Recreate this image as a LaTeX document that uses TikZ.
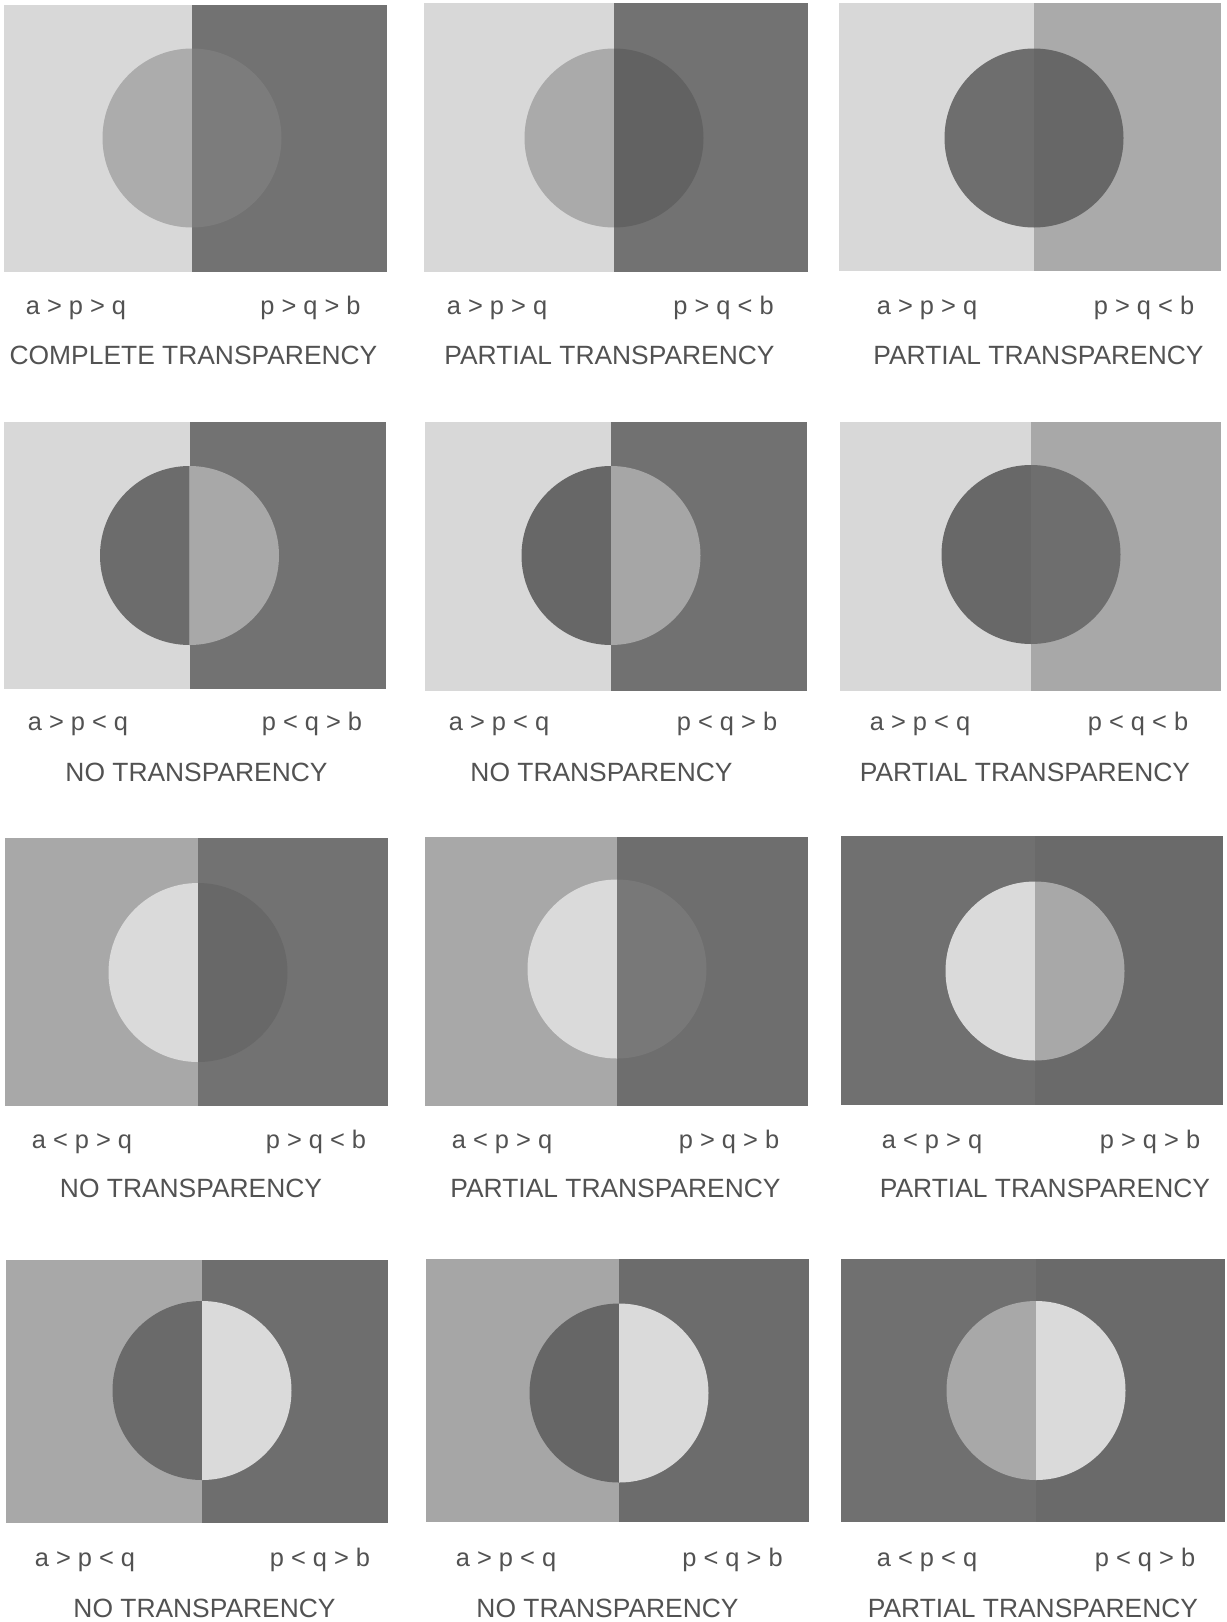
\documentclass[tikz,border=0pt]{standalone}
\usepackage{fontspec}
\setmainfont{Liberation Sans}
\definecolor{txtgray}{RGB}{82,82,82}
\begin{document}
\begin{tikzpicture}[x=0.5pt,y=-0.5pt,
  lab/.style={anchor=base,inner sep=0pt,text=txtgray,font=\fontsize{12.7pt}{14pt}\selectfont},
  ttl/.style={anchor=base,inner sep=0pt,text=txtgray,font=\fontsize{13.2pt}{15pt}\selectfont}]
\useasboundingbox (0,0) rectangle (1226,1622);
\fill[white] (0,0) rectangle (1226,1622);
\def\rr{89.5}
\foreach \xa/\ya/\xb/\yb/\d/\cy/\ca/\cb/\cp/\cq in {
  4/5/387/272/192/138/216/114/172/124,
  424/3/808/272/614/138/216/114/170/98,
  839/3/1221/271/1034/138/216/170/110/103,
  4/422/386/689/189.5/555.5/216/114/108/168,
  425/422/807/691/611/555.5/216/113/103/166,
  840/422/1221/691/1031/554.5/216/168/104/110,
  5/838/388/1106/198/972.5/168/114/218/104,
  425/837/808/1106/617/969/168/110/218/120,
  841/836/1223/1105/1035/971/112/106/218/168,
  6/1260/388/1523/202/1390.5/168/110/106/218,
  426/1259/809/1522/619/1393/166/108/102/218,
  841/1259/1225/1522/1036/1390.5/112/106/168/218}{
  \definecolor{colA}{RGB}{\ca,\ca,\ca}
  \definecolor{colB}{RGB}{\cb,\cb,\cb}
  \definecolor{colP}{RGB}{\cp,\cp,\cp}
  \definecolor{colQ}{RGB}{\cq,\cq,\cq}
  \fill[colA] (\xa,\ya) rectangle (\d,\yb);
  \fill[colB] (\d,\ya) rectangle (\xb,\yb);
  \fill[colP] (\d,\cy) ++(90:\rr) arc[start angle=90,end angle=270,radius=\rr] -- cycle;
  \fill[colQ] (\d,\cy) ++(-90:\rr) arc[start angle=-90,end angle=90,radius=\rr] -- cycle;
}
% row 1
\node[lab] (l1) at (76,314) {a > p > q};
\node[lab] (r1) at (310.5,314) {p > q > b};
\node[ttl] (t1) at (193.5,364) {COMPLETE TRANSPARENCY};
\node[lab] (l2) at (497,314) {a > p > q};
\node[lab] (r2) at (723.5,314) {p > q < b};
\node[ttl] (t2) at (609.5,364) {PARTIAL TRANSPARENCY};
\node[lab] (l3) at (927,314) {a > p > q};
\node[lab] (r3) at (1144,314) {p > q < b};
\node[ttl] (t3) at (1038.5,364) {PARTIAL TRANSPARENCY};
% row 2
\node[lab] (l4) at (78,730) {a > p < q};
\node[lab] (r4) at (312,730) {p < q > b};
\node[ttl] (t4) at (196.5,781) {NO TRANSPARENCY};
\node[lab] (l5) at (499,730) {a > p < q};
\node[lab] (r5) at (727,730) {p < q > b};
\node[ttl] (t5) at (601.5,781) {NO TRANSPARENCY};
\node[lab] (l6) at (920,730) {a > p < q};
\node[lab] (r6) at (1138,730) {p < q < b};
\node[ttl] (t6) at (1025,781) {PARTIAL TRANSPARENCY};
% row 3
\node[lab] (l7) at (82,1148) {a < p > q};
\node[lab] (r7) at (316,1148) {p > q < b};
\node[ttl] (t7) at (191,1197) {NO TRANSPARENCY};
\node[lab] (l8) at (502,1148) {a < p > q};
\node[lab] (r8) at (729,1148) {p > q > b};
\node[ttl] (t8) at (615.5,1197) {PARTIAL TRANSPARENCY};
\node[lab] (l9) at (932,1148) {a < p > q};
\node[lab] (r9) at (1150,1148) {p > q > b};
\node[ttl] (t9) at (1045,1197) {PARTIAL TRANSPARENCY};
% row 4
\node[lab] (l10) at (85,1566) {a > p < q};
\node[lab] (r10) at (320,1566) {p < q > b};
\node[ttl] (t10) at (204.5,1617) {NO TRANSPARENCY};
\node[lab] (l11) at (506,1566) {a > p < q};
\node[lab] (r11) at (732.5,1566) {p < q > b};
\node[ttl] (t11) at (607.5,1617) {NO TRANSPARENCY};
\node[lab] (l12) at (927,1566) {a < p < q};
\node[lab] (r12) at (1145,1566) {p < q > b};
\node[ttl] (t12) at (1033,1617) {PARTIAL TRANSPARENCY};
\end{tikzpicture}
\end{document}
